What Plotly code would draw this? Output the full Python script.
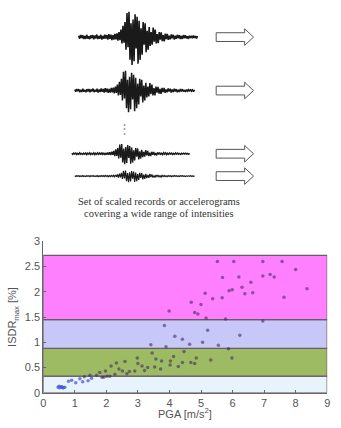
import numpy as np
import plotly.graph_objects as go

# ---------------- data ----------------
# normalised base accelerogram (hand-read shape of the sketched record)
base_record = [0.05,-0.06,0.08,-0.03,0.07,-0.08,0.04,-0.07,0.09,-0.06,0.03,-0.08,0.07,-0.04,0.08,-0.09,
               0.06,-0.05,0.1,-0.08,0.04,-0.06,0.09,-0.1,0.05,-0.07,0.1,-0.06,0.08,-0.1,0.12,-0.07,0.1,
               -0.12,0.08,-0.1,0.13,-0.09,0.15,-0.14,
               0.2,-0.12,0.3,-0.25,0.45,-0.22,0.6,-0.5,0.95,
               -0.4,1.0,-0.9,0.55,-1.1,0.7,-0.95,0.9,-0.45,0.8,-1.05,0.65,-0.9,0.35,-0.7,0.6,-0.3,0.55,
               -0.6,0.25,-0.5,
               0.4,-0.35,0.2,-0.3,0.38,-0.18,0.3,-0.25,0.12,-0.24,0.2,-0.1,0.19,-0.16,0.08,-0.17,
               0.14,-0.08,0.13,-0.11,
               0.06,-0.09,0.11,-0.05,0.09,-0.1,0.05,-0.07,0.09,-0.04,0.07,-0.08,0.04,-0.07,0.08,-0.04,
               0.07,-0.05,0.03,-0.07,0.05,-0.03,0.05,-0.04,0.06,-0.03,0.04,-0.05,0.04]
scale_factors = [1.0, 0.78, 0.38, 0.22]

pga = [5.52,6.04,6.96,7.57,8.0,5.68,6.2,6.96,7.19,7.32,6.58,6.30,6.39,5.89,5.99,6.64,5.13,8.36,7.63,
       5.67,5.37,4.69,5.0,3.99,4.80,4.90,5.16,5.78,6.96,
       3.84,5.21,4.17,6.23,4.41,4.64,5.05,5.55,3.41,3.89,5.87,
       4.46,3.45,4.13,5.98,4.85,3.57,2.98,3.0,4.03,3.75,5.31,2.59,2.32,4.41,4.68,4.80,4.02,4.28,3.53,
       3.31,3.72,2.4,2.15,3.13,3.21,2.9,2.73,2.51,2.65,1.97,1.79,1.48,1.69,1.3,1.86,2.02,2.11,1.92,2.27]
isdr = [2.60,2.60,2.60,2.60,2.44,2.28,2.29,2.31,2.34,2.29,2.19,2.09,1.96,2.02,2.04,1.98,1.97,2.06,1.89,
        1.88,1.86,1.79,1.75,1.62,1.59,1.56,1.48,1.46,1.42,
        1.33,1.24,1.12,1.14,1.06,0.96,1.0,0.94,0.95,0.91,0.87,
        0.82,0.79,0.72,0.69,0.69,0.67,0.69,0.58,0.63,0.63,0.65,0.62,0.59,0.60,0.60,0.58,0.55,0.52,0.51,
        0.50,0.47,0.47,0.53,0.53,0.44,0.43,0.42,0.43,0.38,0.43,0.40,0.35,0.35,0.32,0.31,0.33,0.33,0.31,0.37]
pga_low = [1.53,1.16,0.90,1.03,1.25,1.42,0.80,0.47,0.52,0.56,0.60,0.64,0.50,0.58,0.62,0.68]
isdr_low = [0.29,0.28,0.25,0.20,0.22,0.24,0.23,0.11,0.10,0.12,0.11,0.10,0.13,0.12,0.10,0.11]

band_edges = [0, 0.33, 0.88, 1.45, 2.72]
band_colors = ["#e8f4fb", "#9dbb62", "#c8c8f8", "#ff80ff"]
x_ticks = list(range(0, 10))
y_ticks = [0, 0.5, 1, 1.5, 2, 2.5, 3]

# ---------------- figure ----------------
W, H = 341, 428
fig = go.Figure()

# illustration: records (pixel-like axis x2/y2)
starts = [77, 73, 70, 73]
ends = [198, 195, 190, 195]
centers = [32, 87, 152, 175]
widths = [1.6, 1.5, 1.4, 1.2]
peak_px = 26
n = len(base_record)
rec = np.array(base_record)
for s, e, c, f, lw in zip(starts, ends, centers, scale_factors, widths):
    t = np.arange(n)
    xs = s + t * (e - s) / (n - 1)
    ys = c - f * peak_px * rec
    fig.add_trace(go.Scatter(x=xs, y=ys, mode="lines", line=dict(color="#1a1a1a", width=lw),
                             xaxis="x2", yaxis="y2", showlegend=False, hoverinfo="skip"))
    # hollow arrow
    fig.add_shape(type="path", xref="x2", yref="y2",
                  path=f"M217,{c-4.5} L246,{c-4.5} L246,{c-8.5} L255,{c} L246,{c+8.5} L246,{c+4.5} L217,{c+4.5} Z",
                  line=dict(color="#555555", width=1), fillcolor="white")

fig.add_annotation(x=124, y=125, xref="x2", yref="y2", text="⋮", showarrow=False,
                   font=dict(size=13, color="#999999"))
fig.add_annotation(x=159, y=201, xref="x2", yref="y2", text="Set of scaled records or accelerograms",
                   showarrow=False, font=dict(family="Liberation Serif", size=10.5, color="#333333"))
fig.add_annotation(x=159, y=213, xref="x2", yref="y2", text="covering a wide range of intensities",
                   showarrow=False, font=dict(family="Liberation Serif", size=10.5, color="#333333"))

# bands
for i, col in enumerate(band_colors):
    fig.add_shape(type="rect", xref="x", yref="y", x0=0, x1=9, y0=band_edges[i], y1=band_edges[i + 1],
                  fillcolor=col, line=dict(color="#6a5a6a", width=1.2), layer="below")

fig.add_trace(go.Scatter(x=pga, y=isdr, mode="markers",
                         marker=dict(size=3.5, color="rgba(70,40,100,0.6)"),
                         showlegend=False))
fig.add_trace(go.Scatter(x=pga_low, y=isdr_low, mode="markers",
                         marker=dict(size=3.5, color="rgba(70,90,220,0.75)"),
                         showlegend=False))

fig.add_annotation(x=0.5365, y=231.5, xref="paper", yref="y2", text="<b>IM vs EDP</b>", showarrow=False,
                   font=dict(family="Liberation Sans", size=10, color="#222222"))

axis_font = dict(family="Liberation Sans", size=11, color="#555555")
fig.add_annotation(x=4.5, xref="x", y=(H - 419) / H, yref="paper", yanchor="middle",
                   text="PGA [m/s<sup>2</sup>]", showarrow=False, font=axis_font)
fig.update_layout(
    width=W, height=H, margin=dict(l=0, r=0, t=0, b=0),
    paper_bgcolor="white", plot_bgcolor="white",
    xaxis=dict(domain=[41 / W, 330 / W], range=[0, 9], tickvals=x_ticks, showgrid=False,
               zeroline=False, showline=True, linecolor="#666666", linewidth=1, ticks="inside", ticklen=3,
               tickcolor="#666666", tickfont=axis_font),
    yaxis=dict(domain=[30 / H, 186 / H], range=[0, 3], tickvals=y_ticks,
               ticktext=["0", "0.5", "1", "1.5", "2", "2.5", "3"], showgrid=False, zeroline=False,
               showline=True, linecolor="#666666", linewidth=1, ticks="inside", ticklen=3,
               tickcolor="#666666", tickfont=axis_font,
               title=dict(text="ISDR<sub>max</sub> [%]", font=axis_font, standoff=5)),
    xaxis2=dict(domain=[0, 1], range=[0, W], visible=False, anchor="y2"),
    yaxis2=dict(domain=[(H - 220) / H, 1], range=[220, 0], visible=False, anchor="x2"),
)

fig.write_html("out.html", config={"displayModeBar": False},
               post_script="document.body.style.margin='0';document.body.style.overflow='hidden';")
